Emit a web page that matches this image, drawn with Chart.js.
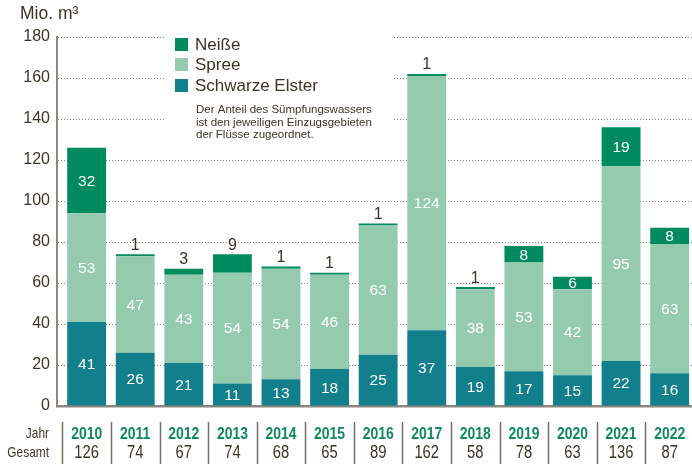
<!DOCTYPE html>
<html><head><meta charset="utf-8">
<script src="https://cdn.jsdelivr.net/npm/chart.js@4"></script>
<style>html,body{margin:0;padding:0;background:#fff;}</style>
</head><body>
<canvas id="c" width="692" height="464"></canvas>
<script>
const years = ['2010','2011','2012','2013','2014','2015','2016','2017','2018','2019','2020','2021','2022'];
const schwarzeElster = [41,26,21,11,13,18,25,37,19,17,15,22,16];
const spree = [53,47,43,54,54,46,63,124,38,53,42,95,63];
const neisse = [32,1,3,9,1,1,1,1,1,8,6,19,8];
const gesamt = [126,74,67,74,68,65,89,162,58,78,63,136,87];
const yTickValues = [0,20,40,60,80,100,120,140,160,180];
const unitLabel = 'Mio. m³';
const rowLabels = ['Jahr','Gesamt'];
const noteLines = ['Der Anteil des Sümpfungswassers','ist den jeweiligen Einzugsgebieten','der Flüsse zugeordnet.'];
// presentation: years whose Neiße label sits above the bar
const labelAboveYears = ['2011','2012','2013','2014','2015','2016','2017','2018'];

const C_NEISSE = '#008b5f', C_SPREE = '#94cbaf', C_ELSTER = '#127f8c';
const C_TEXT = '#3b3428', C_AXIS = '#8c877c', C_GREEN = '#0e8a5b';
const SANS = '"Liberation Sans",Arial,sans-serif';
const SQUEEZE = 0.82;

const pts = arr => arr.map((v,i)=>({x:i,y:v}));

function narrowText(ctx, text, x, y, align){
  ctx.save();
  ctx.translate(x, y);
  ctx.scale(SQUEEZE, 1);
  ctx.textAlign = align;
  ctx.fillText(text, 0, 0);
  ctx.restore();
}

const extras = {
  id:'extras',
  beforeDatasetsDraw(chart){
    const ctx = chart.ctx;
    ctx.save(); ctx.fillStyle='#fff'; ctx.fillRect(166,29,226,118); ctx.restore();
  },
  afterDatasetsDraw(chart){
    const ctx = chart.ctx;
    const xs = chart.scales.x;
    ctx.save();
    chart.data.datasets.forEach((ds,di)=>{
      const meta = chart.getDatasetMeta(di);
      meta.data.forEach((el,i)=>{
        const v = ds.data[i].y;
        ctx.textAlign='center';
        if (ds.key==='neisse' && labelAboveYears.includes(years[i])) {
          ctx.fillStyle=C_TEXT; ctx.font='16px '+SANS; ctx.textBaseline='middle';
          ctx.fillText(String(v), el.x, el.y-9);
        } else {
          ctx.fillStyle='#fff'; ctx.font='15.5px '+SANS; ctx.textBaseline='middle';
          ctx.fillText(String(v), el.x, (el.y+el.base)/2+1);
        }
      });
    });
    ctx.fillStyle=C_TEXT; ctx.font='17.5px '+SANS; ctx.textAlign='left'; ctx.textBaseline='middle';
    ctx.fillText(unitLabel, 20, 14);
    const leg = [[C_NEISSE,'Neiße',38],[C_SPREE,'Spree',58],[C_ELSTER,'Schwarze Elster',79]];
    leg.forEach(([c,t,y])=>{
      ctx.fillStyle=c; ctx.fillRect(175,y,13,13);
      ctx.fillStyle=C_TEXT; ctx.font='17px '+SANS; ctx.textBaseline='middle';
      ctx.fillText(t,195,y+7);
    });
    ctx.font='11.5px '+SANS;
    noteLines.forEach((t,k)=>ctx.fillText(t,196,110+k*12.5));
    // table
    ctx.strokeStyle='#776f62'; ctx.lineWidth=1.5;
    years.forEach((y,i)=>{
      const sx = Math.round(xs.getPixelForValue(i-0.5))+0.5;
      ctx.beginPath(); ctx.moveTo(sx,422); ctx.lineTo(sx,464); ctx.stroke();
    });
    ctx.fillStyle=C_TEXT; ctx.font='14.5px '+SANS; ctx.textBaseline='middle';
    narrowText(ctx, rowLabels[0], 49, 434, 'right');
    narrowText(ctx, rowLabels[1], 49, 453, 'right');
    years.forEach((y,i)=>{
      const cx = xs.getPixelForValue(i);
      ctx.fillStyle=C_GREEN; ctx.font='bold 17px '+SANS;
      narrowText(ctx, y, cx, 434, 'center');
      ctx.fillStyle=C_TEXT; ctx.font='18px '+SANS;
      narrowText(ctx, String(gesamt[i]), cx, 453, 'center');
    });
    ctx.restore();
  }
};

new Chart(document.getElementById('c'),{
  type:'bar',
  data:{datasets:[
    {key:'elster',label:'Schwarze Elster',data:pts(schwarzeElster),backgroundColor:C_ELSTER},
    {key:'spree',label:'Spree',data:pts(spree),backgroundColor:C_SPREE},
    {key:'neisse',label:'Neiße',data:pts(neisse),backgroundColor:C_NEISSE}
  ]},
  options:{
    responsive:false, animation:false, devicePixelRatio:1,
    layout:{padding:{top:37,right:0,left:0,bottom:0}},
    datasets:{bar:{barPercentage:0.8,categoryPercentage:1,borderWidth:0}},
    plugins:{legend:{display:false},tooltip:{enabled:false}},
    scales:{
      x:{type:'linear',stacked:true,min:-0.61,max:12.46,offset:false,
        ticks:{display:false},grid:{display:false,offset:false},
        border:{display:true,color:C_AXIS,width:2.5},
        afterFit(s){s.height=58;}},
      y:{stacked:true,min:0,max:180,
        afterBuildTicks(s){s.ticks=yTickValues.map(v=>({value:v}));},
        ticks:{color:C_TEXT,font:{family:SANS,size:16},padding:7},
        grid:{color:C_AXIS,lineWidth:1,drawTicks:false},
        border:{display:true,color:C_AXIS,width:2,dash:[1,2]},
        afterFit(s){s.width=57;}}
    }
  },
  plugins:[extras]
});
</script>
</body></html>
